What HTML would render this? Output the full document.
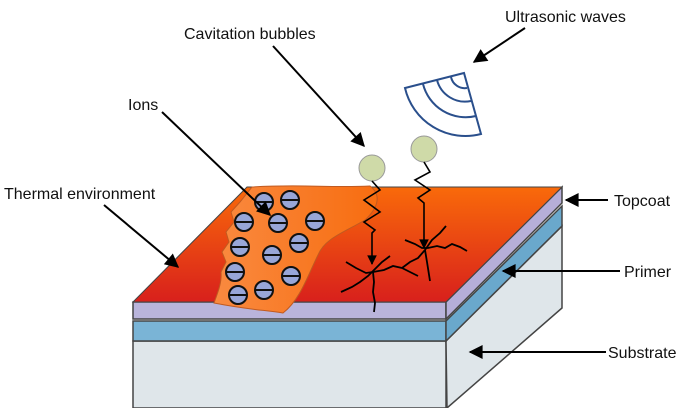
<!DOCTYPE html>
<html><head><style>body{margin:0;background:#fff}svg{display:block}text{font-family:"Liberation Sans",sans-serif;font-size:16px;fill:#111}</style></head><body>
<svg width="690" height="408" viewBox="0 0 690 408">
<defs>
<linearGradient id="top" x1="0" y1="0" x2="0" y2="1"><stop offset="0" stop-color="#f96a0a"/><stop offset="1" stop-color="#d8201c"/></linearGradient>
<linearGradient id="ion" x1="0" y1="0" x2="1" y2="0"><stop offset="0" stop-color="#f98a40"/><stop offset="1" stop-color="#f86d10"/></linearGradient>
<marker id="ah" viewBox="0 0 10 10" refX="9" refY="5" markerWidth="9" markerHeight="7" orient="auto"><path d="M0,0L10,5L0,10z" fill="#000"/></marker>
<marker id="as" viewBox="0 0 10 10" refX="9" refY="5" markerWidth="7" markerHeight="6" orient="auto"><path d="M0,0L10,5L0,10z" fill="#000"/></marker>
</defs>
<polygon points="133,341 446,341 446,408 133,408" fill="#dfe6ea" stroke="#444" stroke-width="1.5"/>
<polygon points="446,341 562,226 562,308 447,408" fill="#dfe6ea" stroke="#444" stroke-width="1.5"/>
<polygon points="133,321 446,321 446,341 133,341" fill="#7ab4d6" stroke="#444" stroke-width="1.5"/>
<polygon points="446,321 562,206 562,226 446,341" fill="#6aa8cc" stroke="#444" stroke-width="1.5"/>
<polygon points="133,302 446,302 446,319 133,319" fill="#b9b4db" stroke="#444" stroke-width="1.5"/>
<polygon points="446,302 562,187 562,203 446,319" fill="#b6aed8" stroke="#444" stroke-width="1.5"/>
<polygon points="133,302 247,187 562,187 446,302" fill="url(#top)" stroke="#444" stroke-width="1"/>
<path d="M252,187 C300,184 330,188 370,186 C382,195 378,208 365,220 C345,232 325,238 318,255 C308,275 300,300 283,313 C265,310 250,310 214,303 C218,292 222,282 221,272 L226,262 L222,252 L229,242 L226,232 L234,222 L231,212 L240,202 Z" fill="url(#ion)" stroke="#c05a20" stroke-width="1"/>
<g stroke="#111" stroke-width="2" fill="#98a6d8">
<circle cx="264" cy="202" r="9"/><circle cx="290" cy="200" r="9"/>
<circle cx="244" cy="222" r="9"/><circle cx="278" cy="223" r="9"/><circle cx="315" cy="221" r="9"/>
<circle cx="240" cy="247" r="9"/><circle cx="299" cy="243" r="9"/>
<circle cx="272" cy="255" r="9"/><circle cx="235" cy="272" r="9"/>
<circle cx="291" cy="276" r="9"/><circle cx="238" cy="295" r="9"/><circle cx="264" cy="290" r="9"/>
</g>
<g stroke="#111" stroke-width="2">
<line x1="255" y1="202" x2="273" y2="202"/><line x1="281" y1="200" x2="299" y2="200"/>
<line x1="235" y1="222" x2="253" y2="222"/><line x1="269" y1="223" x2="287" y2="223"/><line x1="306" y1="221" x2="324" y2="221"/>
<line x1="231" y1="247" x2="249" y2="247"/><line x1="290" y1="243" x2="308" y2="243"/>
<line x1="263" y1="255" x2="281" y2="255"/><line x1="226" y1="272" x2="244" y2="272"/>
<line x1="282" y1="276" x2="300" y2="276"/><line x1="229" y1="295" x2="247" y2="295"/><line x1="255" y1="290" x2="273" y2="290"/>
</g>
<g stroke="#000" stroke-width="1.8" fill="none">
<path d="M341,292 L352,287 L360,282 L368,276 L376,268 L382,262 L390,256"/>
<path d="M346,262 L356,268 L366,273 L373,272 L384,270 L393,266 L402,268 L410,272 L418,276"/>
<path d="M373,272 L374,282 L373,292 L375,303 L374,312"/>
<path d="M405,240 L415,244 L422,248 L428,248 L437,246 L445,248 L452,244 L460,247 L467,251"/>
<path d="M402,268 L410,262 L418,258 L425,250 L432,240 L440,233 L446,226"/>
<path d="M425,250 L427,262 L430,281"/>
</g>
<circle cx="372" cy="168" r="13" fill="#cfdaa8" stroke="#999"/>
<circle cx="424" cy="149" r="13" fill="#cfdaa8" stroke="#999"/>
<g stroke="#000" stroke-width="1.6" fill="none">
<polyline points="372,181 380,190 364,200 380,212 364,222 375,230 372,233 372,264" marker-end="url(#as)"/>
<polyline points="424,162 430,172 415,180 430,190 418,198 424,203 424,248" marker-end="url(#as)"/>
</g>
<g stroke="#2a4f8c" stroke-width="2" fill="none">
<path d="M464,73 L405,88 A62,62 0 0 0 481,134 Z"/>
<path d="M423,84 A44,44 0 0 0 476,116"/>
<path d="M437,80 A29,29 0 0 0 471,101"/>
<path d="M451,77 A14,14 0 0 0 467,88"/>
</g>
<g stroke="#000" stroke-width="2" marker-end="url(#ah)">
<line x1="525" y1="28" x2="474" y2="62"/>
<line x1="273" y1="46" x2="364" y2="146"/>
<line x1="162" y1="112" x2="270" y2="215"/>
<line x1="104" y1="205" x2="178" y2="267"/>
<line x1="608" y1="200" x2="566" y2="200"/>
<line x1="620" y1="271" x2="503" y2="271"/>
<line x1="606" y1="352" x2="470" y2="352"/>
</g>
<text x="505" y="22">Ultrasonic waves</text>
<text x="184" y="39">Cavitation bubbles</text>
<text x="128" y="110">Ions</text>
<text x="4" y="199">Thermal environment</text>
<text x="614" y="206">Topcoat</text>
<text x="624" y="277">Primer</text>
<text x="608" y="358">Substrate</text>
</svg>
</body></html>
